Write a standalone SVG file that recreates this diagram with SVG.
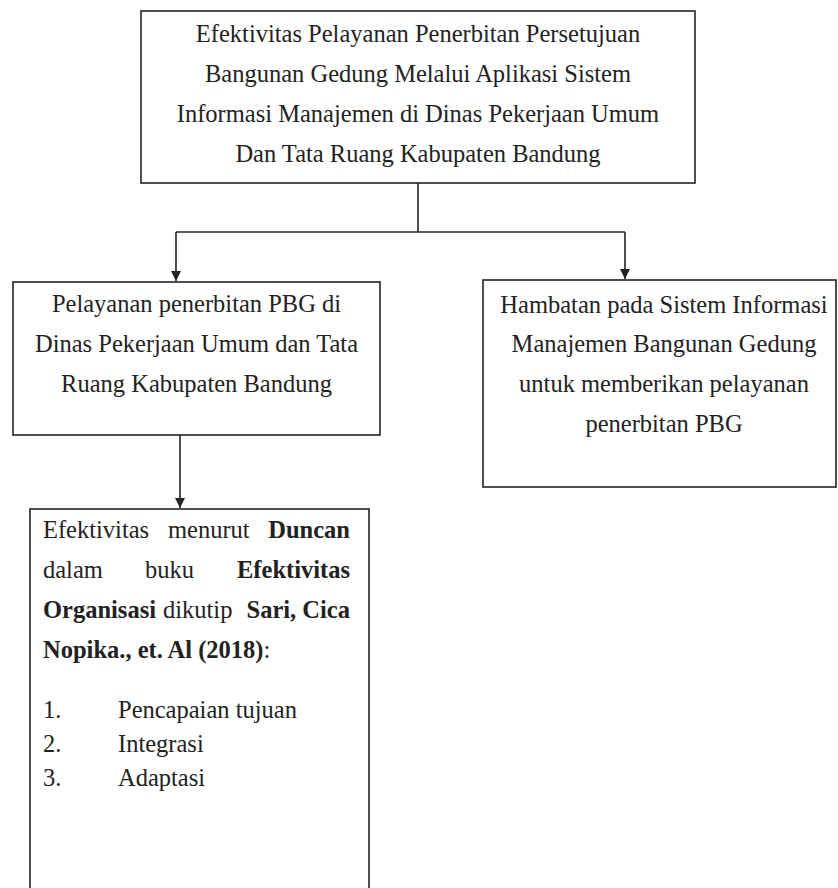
<svg xmlns="http://www.w3.org/2000/svg" width="838" height="888" viewBox="0 0 838 888">
<style>
.box{fill:#fff;stroke:#222;stroke-width:1.6}
.ln{fill:none;stroke:#222;stroke-width:1.6}
text{font-family:"Liberation Serif","Times New Roman",serif;font-size:24.5px;fill:#222}
.c{text-anchor:middle}
.b{font-weight:bold}
</style>
<defs>
<marker id="ah" viewBox="0 0 10 10" refX="10" refY="5" markerWidth="10" markerHeight="10" markerUnits="userSpaceOnUse" orient="auto">
<path d="M0,0 L10,5 L0,10 Z" fill="#222"/>
</marker>
</defs>
<rect width="838" height="888" fill="#fff"/>
<g id="connectors">
<path class="ln" d="M418,183 V232"/>
<path class="ln" d="M176,232 H625"/>
<path class="ln" d="M176,232 V281" marker-end="url(#ah)"/>
<path class="ln" d="M625,232 V279" marker-end="url(#ah)"/>
<path class="ln" d="M180,435 V508" marker-end="url(#ah)"/>
</g>
<g id="top">
<rect class="box" x="141" y="11" width="554" height="172"/>
<text class="c" x="418" y="42">Efektivitas Pelayanan Penerbitan Persetujuan</text>
<text class="c" x="418" y="82">Bangunan Gedung Melalui Aplikasi Sistem</text>
<text class="c" x="418" y="122">Informasi Manajemen di Dinas Pekerjaan Umum</text>
<text class="c" x="418" y="162">Dan Tata Ruang Kabupaten Bandung</text>
</g>
<g id="pelayanan">
<rect class="box" x="13" y="282" width="367" height="153"/>
<text class="c" x="196.5" y="312">Pelayanan penerbitan PBG di</text>
<text class="c" x="196.5" y="352">Dinas Pekerjaan Umum dan Tata</text>
<text class="c" x="196.5" y="392">Ruang Kabupaten Bandung</text>
</g>
<g id="hambatan">
<rect class="box" x="483" y="280" width="353" height="207"/>
<text class="c" x="664" y="313">Hambatan pada Sistem Informasi</text>
<text class="c" x="664" y="352">Manajemen Bangunan Gedung</text>
<text class="c" x="664" y="392">untuk memberikan pelayanan</text>
<text class="c" x="664" y="432">penerbitan PBG</text>
</g>
<g id="duncan">
<rect class="box" x="30" y="509" width="339" height="400"/>
<text x="43" y="538">Efektivitas</text>
<text x="168" y="538">menurut</text>
<text class="b" x="350" y="538" text-anchor="end">Duncan</text>
<text x="43" y="578">dalam</text>
<text x="145" y="578">buku</text>
<text class="b" x="350" y="578" text-anchor="end">Efektivitas</text>
<text class="b" x="43" y="618">Organisasi</text>
<text x="163" y="618">dikutip</text>
<text class="b" x="350" y="618" text-anchor="end">Sari, Cica</text>
<text x="43" y="658"><tspan class="b">Nopika., et. Al (2018)</tspan>:</text>
<text x="43" y="718">1.</text>
<text x="118" y="718">Pencapaian tujuan</text>
<text x="43" y="752">2.</text>
<text x="118" y="752">Integrasi</text>
<text x="43" y="786">3.</text>
<text x="118" y="786">Adaptasi</text>
</g>
</svg>
